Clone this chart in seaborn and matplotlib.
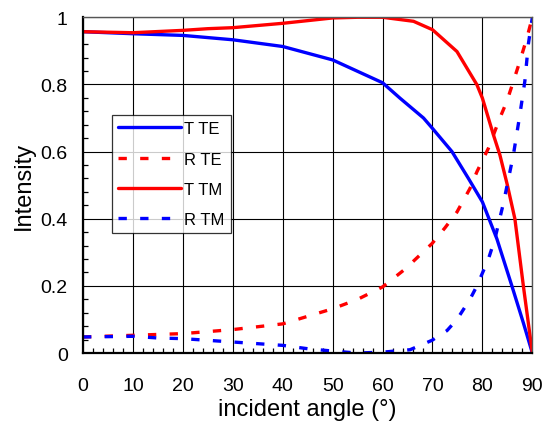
import matplotlib.pyplot as plt
import numpy as np
import pandas as pd
import seaborn as sns
from matplotlib.ticker import MultipleLocator

# valeurs
angle_t_te = [0, 10, 20, 30, 40, 50, 60, 63.5, 68.2, 70, 73.9, 77.2, 80, 82.9, 85.9, 88.2, 90]
t_te = [0.957, 0.951, 0.946, 0.933, 0.913, 0.873, 0.805, 0.759, 0.70, 0.669, 0.60, 0.52, 0.45, 0.34, 0.20, 0.09, 0.0]

angle_r_te = [0, 10, 20, 30, 40, 50, 55, 60, 64.5, 69.9, 72.5, 74.9, 77.5, 78.9, 81.2, 83.5, 84.9, 86.2, 87.5, 88.9, 90]
r_te = [0.048, 0.053, 0.058, 0.07, 0.087, 0.132, 0.16, 0.197, 0.25, 0.326, 0.373, 0.42, 0.49, 0.54, 0.61, 0.70, 0.75, 0.809, 0.869, 0.938, 1.0]

angle_t_tm = [0, 10, 20, 25, 30, 40, 45, 50, 55, 60, 66.2, 70, 74.9, 78.9, 80, 82.2, 83.5, 85, 86.5, 88.2, 90]
t_tm = [0.957, 0.954, 0.961, 0.966, 0.969, 0.982, 0.99, 0.998, 1.0, 1.0, 0.988, 0.963, 0.898, 0.799, 0.759, 0.65, 0.59, 0.50, 0.40, 0.20, 0.0]

angle_r_tm = [0, 10, 15, 20, 30, 40, 45, 50, 55, 60.2, 65.5, 69.9, 72.9, 74.9, 77.5, 78.9, 81.2, 82.5, 84.2, 86.2, 87.5, 88.5, 89.2, 90]
r_tm = [0.048, 0.05, 0.045, 0.043, 0.033, 0.023, 0.013, 0.006, 0.0, 0.003, 0.01, 0.038, 0.067, 0.10, 0.16, 0.20, 0.28, 0.34, 0.446, 0.59, 0.71, 0.81, 0.92, 1.0]

sns.set_style('white')
plt.rcParams['font.family'] = ['Liberation Sans', 'DejaVu Sans']
plt.rcParams['text.color'] = 'black'
plt.rcParams['axes.labelcolor'] = 'black'
plt.rcParams['xtick.color'] = 'black'
plt.rcParams['ytick.color'] = 'black'

fig, ax = plt.subplots(figsize=(5.46, 4.35), dpi=100)

lw = 2.4
sns.lineplot(x=angle_t_te, y=t_te, color='#0000ff', lw=lw, label='T TE', ax=ax)
sns.lineplot(x=angle_r_te, y=r_te, color='#ff0000', lw=lw, label='R TE', ax=ax)
sns.lineplot(x=angle_t_tm, y=t_tm, color='#ff0000', lw=lw, label='T TM', ax=ax)
sns.lineplot(x=angle_r_tm, y=r_tm, color='#0000ff', lw=lw, label='R TM', ax=ax)
for ln in [ax.lines[1], ax.lines[3]]:
    ln.set_dashes((2.5, 4.0))

ax.set_xlim(0, 90)
ax.set_ylim(0, 1)
ax.xaxis.set_major_locator(MultipleLocator(10))
ax.xaxis.set_minor_locator(MultipleLocator(2))
ax.yaxis.set_minor_locator(MultipleLocator(0.04))
ax.set_yticks([0, 0.2, 0.4, 0.6, 0.8, 1.0])
ax.set_yticklabels(['0', '0.2', '0.4', '0.6', '0.8', '1'])
ax.grid(True, which='major', color='black', lw=0.8)
ax.tick_params(which='both', direction='in', labelsize=14, color='black', labelcolor='black',
               bottom=True, left=True)
ax.tick_params(which='major', length=0)
ax.tick_params(which='minor', length=3.8, width=0.9)
ax.tick_params(axis='x', which='major', pad=17)
ax.tick_params(axis='y', which='major', pad=11)
for s in ax.spines.values():
    s.set_color('#555555')
    s.set_linewidth(1)
ax.spines['left'].set_color('black')
ax.spines['bottom'].set_color('black')
ax.spines['left'].set_linewidth(1.6)
ax.spines['bottom'].set_linewidth(1.6)

ax.set_xlabel('incident angle (°)', fontsize=17, labelpad=3)
ax.set_ylabel('Intensity', fontsize=17, labelpad=4)

leg = ax.legend(loc='upper left', bbox_to_anchor=(0.0655, 0.708), frameon=True, fancybox=False,
                edgecolor='black', fontsize=12, handlelength=3.75, handletextpad=0.2,
                labelspacing=0.92, borderpad=0.36, borderaxespad=0)
leg.get_frame().set_linewidth(0.9)

fig.subplots_adjust(left=0.152, right=0.975, top=0.958, bottom=0.186)
fig.savefig('out.png', dpi=100)
